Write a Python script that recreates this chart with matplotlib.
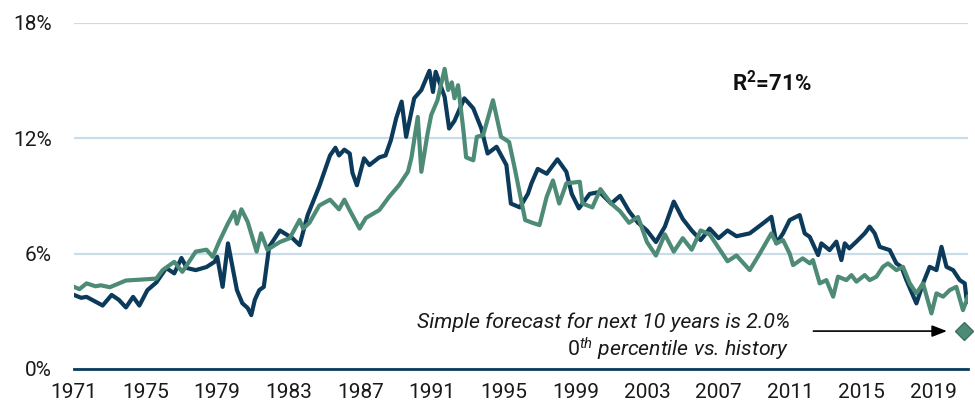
import matplotlib
matplotlib.use("Agg")
import matplotlib.pyplot as plt

plt.rcParams['font.family'] = ['Roboto', 'DejaVu Sans']
plt.rcParams['mathtext.fontset'] = 'custom'
plt.rcParams['mathtext.rm'] = 'Roboto'
plt.rcParams['mathtext.it'] = 'Roboto:italic'
plt.rcParams['mathtext.bf'] = 'Roboto:bold'

# dark series (navy)
navy_x = [1971.0, 1971.4, 1971.7, 1972.2, 1972.6, 1973.1, 1973.5, 1973.9, 1974.3, 1974.65,
          1975.1, 1975.6, 1976.15, 1976.6, 1977.0, 1977.3, 1977.8, 1978.4, 1978.85, 1979.0,
          1979.3, 1979.6, 1979.85, 1980.1, 1980.4, 1980.7, 1980.9, 1981.1, 1981.35, 1981.6,
          1981.9, 1982.5, 1983.2, 1983.6, 1984.05, 1984.7, 1985.3, 1985.6, 1985.8, 1986.1,
          1986.4, 1986.55, 1986.8, 1987.2, 1987.5, 1988.05, 1988.4, 1988.7, 1989.0, 1989.3,
          1989.55, 1990.0, 1990.4, 1990.85, 1991.05, 1991.2, 1991.7, 1991.95, 1992.25, 1992.8,
          1993.3, 1993.75, 1994.1, 1994.6, 1995.15, 1995.4, 1995.9, 1996.35, 1996.55, 1996.9,
          1997.4, 1998.0, 1998.5, 1998.8, 1999.2, 1999.8, 2000.35, 2001.0, 2001.5, 2002.0,
          2002.5, 2003.0, 2003.5, 2004.0, 2004.5, 2005.0, 2005.5, 2006.0, 2006.5, 2007.0,
          2007.5, 2008.0, 2008.74, 2009.48, 2009.95, 2010.23, 2010.6, 2010.97, 2011.53, 2011.81,
          2012.09, 2012.56, 2012.74, 2013.2, 2013.58, 2013.86, 2014.05, 2014.3, 2014.7, 2015.16,
          2015.44, 2015.72, 2016.0, 2016.56, 2016.93, 2017.21, 2017.49, 2018.05, 2018.42, 2018.79,
          2019.17, 2019.45, 2019.73, 2020.1, 2020.47, 2020.75, 2020.84, 2020.92]
navy_y = [3.85, 3.7, 3.75, 3.5, 3.3, 3.85, 3.6, 3.2, 3.75, 3.3,
          4.1, 4.5, 5.25, 4.97, 5.77, 5.25, 5.14, 5.3, 5.57, 5.83,
          4.27, 6.53, 5.3, 4.1, 3.42, 3.17, 2.8, 3.6, 4.1, 4.27,
          6.35, 7.2, 6.8, 6.44, 8.0, 9.5, 11.1, 11.5, 11.1, 11.4,
          11.2, 10.2, 9.55, 10.95, 10.6, 11.0, 11.1, 11.9, 13.05, 13.9,
          12.07, 14.07, 14.5, 15.5, 14.4, 15.45, 14.15, 12.5, 12.9, 14.07,
          13.55, 12.5, 11.2, 11.55, 10.6, 8.6, 8.4, 9.1, 9.65, 10.4,
          10.15, 10.9, 10.25, 9.1, 8.35, 9.1, 9.2, 8.6, 9.0, 8.2,
          7.6, 7.2, 6.6, 7.4, 8.7, 7.8, 7.2, 6.7, 7.3, 6.8,
          7.2, 6.9, 7.05, 7.57, 7.91, 6.53, 7.05, 7.74, 8.0, 7.05,
          6.87, 5.92, 6.53, 6.18, 6.62, 5.66, 6.53, 6.27, 6.62, 7.05,
          7.4, 7.05, 6.35, 6.18, 5.49, 5.31, 4.62, 3.41, 4.45, 5.31,
          5.14, 6.35, 5.31, 5.14, 4.62, 4.45, 3.7, 3.5]

# light series (green)
green_x = [1971.0, 1971.3, 1971.7, 1972.2, 1972.5, 1973.0, 1973.9, 1974.8, 1975.6, 1975.95,
           1976.6, 1977.05, 1977.8, 1978.4, 1978.75, 1979.1, 1979.6, 1979.95, 1980.1, 1980.35,
           1980.7, 1981.2, 1981.45, 1981.8, 1982.5, 1983.05, 1983.6, 1983.8, 1984.15, 1984.7,
           1985.3, 1985.8, 1986.1, 1986.4, 1986.95, 1987.3, 1988.05, 1988.6, 1989.15, 1989.65,
           1989.85, 1990.2, 1990.4, 1990.75, 1990.95, 1991.3, 1991.7, 1991.9, 1992.1, 1992.25,
           1992.45, 1992.75, 1992.9, 1993.3, 1993.5, 1993.85, 1994.4, 1994.85, 1995.3, 1995.6,
           1996.2, 1996.6, 1997.0, 1997.4, 1997.75, 1998.1, 1998.5, 1999.25, 1999.4, 1999.95,
           2000.4, 2001.0, 2001.5, 2002.0, 2002.5, 2003.0, 2003.5, 2004.0, 2004.5, 2005.0,
           2005.5, 2006.0, 2006.5, 2007.0, 2007.5, 2008.0, 2008.74, 2009.3, 2009.95, 2010.23,
           2010.6, 2010.97, 2011.16, 2011.7, 2012.1, 2012.27, 2012.65, 2013.02, 2013.4, 2013.67,
           2014.14, 2014.42, 2014.7, 2015.16, 2015.44, 2015.82, 2016.18, 2016.46, 2016.93, 2017.3,
           2017.68, 2018.05, 2018.42, 2018.89, 2019.17, 2019.54, 2019.91, 2020.28, 2020.65, 2020.93]
green_y = [4.27, 4.15, 4.45, 4.3, 4.35, 4.25, 4.6, 4.65, 4.7, 5.14,
           5.57, 5.05, 6.1, 6.2, 5.83, 6.6, 7.57, 8.17, 7.55, 8.3,
           7.65, 6.1, 7.05, 6.2, 6.6, 6.8, 7.75, 7.3, 7.6, 8.5,
           8.8, 8.3, 8.8, 8.25, 7.3, 7.85, 8.26, 8.95, 9.55, 10.25,
           11.0, 13.1, 10.25, 12.25, 13.2, 13.97, 15.6, 14.5, 14.9, 14.07,
           14.75, 12.4, 11.0, 10.85, 12.07, 12.15, 13.97, 12.07, 11.8, 10.5,
           7.74, 7.6, 7.48, 8.95, 9.8, 8.6, 9.65, 9.73, 8.6, 8.4,
           9.35, 8.6, 8.2, 7.6, 7.9, 6.6, 5.9, 7.0, 6.1, 6.8,
           6.2, 7.2, 7.0, 6.3, 5.6, 5.9, 5.14, 6.0, 7.05, 6.53,
           6.7, 6.0, 5.4, 5.75, 5.49, 5.66, 4.45, 4.62, 3.76, 4.8,
           4.62, 4.88, 4.54, 4.88, 4.62, 4.8, 5.31, 5.49, 5.14, 5.31,
           4.45, 3.93, 4.45, 2.89, 3.93, 3.76, 4.1, 4.27, 3.06, 3.76]

forecast_year = 2020.69
forecast_value = 2.0

year_ticks = [1971, 1975, 1979, 1983, 1987, 1991, 1995, 1999, 2003, 2007, 2011, 2015, 2019]
pct_ticks = [0, 6, 12, 18]

navy = '#0b3a5b'
green = '#4d8b76'

fig = plt.figure(figsize=(9.75, 4.09), dpi=100)
ax = fig.add_axes([0.0759, 0.0978, 0.9169, 0.8467])

ax.plot(navy_x, navy_y, color=navy, lw=3.0, solid_joinstyle='round', zorder=3)
ax.plot(green_x, green_y, color=green, lw=3.0, solid_joinstyle='round', zorder=4)
ax.plot([forecast_year], [forecast_value], marker='D', ms=9, color=green,
        mec='#3d6f5e', mew=1, zorder=5, clip_on=False)

ax.annotate('', xy=(2019.91, 1.97), xytext=(2012.14, 1.97),
            arrowprops=dict(arrowstyle='-|>,head_length=0.9,head_width=0.35', color='black', lw=1.2))

ax.text(2010.97, 2.44, 'Simple forecast for next 10 years is 2.0%', ha='right', va='center',
        fontsize=15.3, style='italic', color='#1a1a1a')
ax.text(2010.97, 1.04, r'$\mathit{0^{th}}$ percentile vs. history', ha='right', va='center',
        fontsize=15.3, style='italic', color='#1a1a1a')

ax.text(2009.97, 14.86, r'R$^{\mathbf{2}}$=71%', ha='center', va='center', fontsize=16,
        fontweight='bold', color='#111111')

ax.set_xlim(1971, 2020.93)
ax.set_ylim(0, 18)
ax.set_xticks(year_ticks)
ax.set_xticklabels([str(y) for y in year_ticks])
ax.set_yticks(pct_ticks)
ax.set_yticklabels(['%d%%' % p for p in pct_ticks])
ax.tick_params(axis='both', length=0, labelsize=15, colors='#1a1a1a')
ax.tick_params(axis='y', pad=16)
ax.tick_params(axis='x', pad=10)

ax.grid(axis='y', color='#c9dce7', lw=1.6)
ax.set_axisbelow(True)
for s in ['top', 'right', 'left']:
    ax.spines[s].set_visible(False)
ax.spines['bottom'].set_color(navy)
ax.spines['bottom'].set_linewidth(2)
ax.spines['bottom'].set_zorder(2)

fig.savefig('out.png', dpi=100)
